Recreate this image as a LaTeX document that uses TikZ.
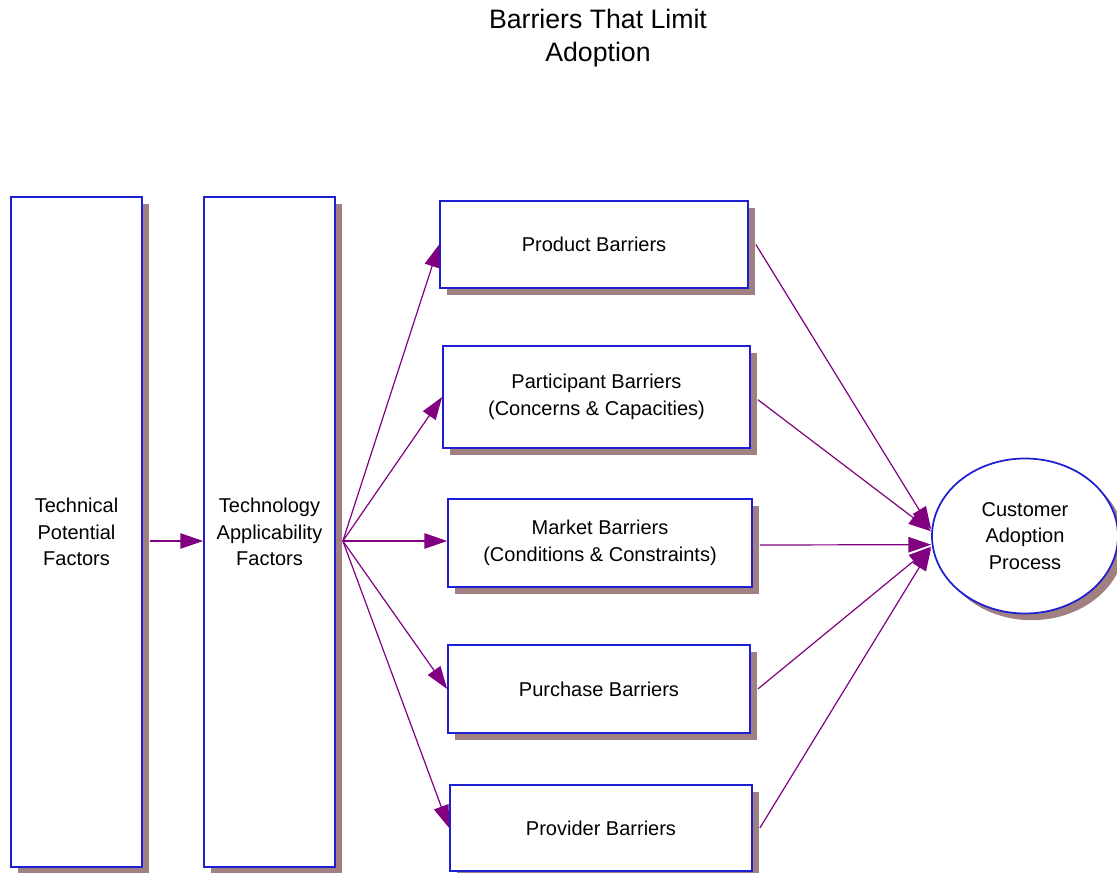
\documentclass[tikz,border=0pt]{standalone}
\usepackage{fontspec}
\setmainfont{Liberation Sans}
\usetikzlibrary{arrows.meta,shadows,shapes.geometric}
\definecolor{edgeblue}{RGB}{30,30,210}
\definecolor{flowpurple}{RGB}{128,0,128}
\definecolor{shadowbrown}{RGB}{160,128,128}
\begin{document}
\begin{tikzpicture}[x=0.75pt,y=-0.75pt,
  box/.style={draw=edgeblue,line width=1.3pt,fill=white,align=center,
    inner sep=0pt,font=\fontsize{15}{20}\selectfont,
    drop shadow={shadow xshift=5pt,shadow yshift=-5pt,fill=shadowbrown,opacity=1}},
  oval/.style={box,ellipse},
  flow/.style={draw=flowpurple,line width=0.9pt,-{Triangle[length=17pt,width=11.5pt]}}]
  \useasboundingbox (0,0) rectangle (1117,873);

  % heading
  \node[align=center,font=\fontsize{20}{24.75}\selectfont] (title) at (598,38)
    {Barriers That Limit\\Adoption};

  % factor columns
  \node[box,minimum width={131*0.75pt},minimum height={670*0.75pt}] (tpf) at (76.5,532)
    {Technical\\Potential\\Factors};
  \node[box,minimum width={131*0.75pt},minimum height={670*0.75pt}] (taf) at (269.5,532)
    {Technology\\Applicability\\Factors};

  % barrier boxes
  \node[box,minimum width={308*0.75pt},minimum height={87*0.75pt}] (prod) at (594,244.5)
    {Product Barriers};
  \node[box,minimum width={307*0.75pt},minimum height={102*0.75pt}] (part) at (596.5,397)
    {Participant Barriers\\(Concerns \& Capacities)};
  \node[box,minimum width={304*0.75pt},minimum height={88*0.75pt}] (mkt) at (600,543)
    {Market Barriers\\(Conditions \& Constraints)};
  \node[box,minimum width={302*0.75pt},minimum height={88*0.75pt}] (purch) at (599,689)
    {Purchase Barriers};
  \node[box,minimum width={302*0.75pt},minimum height={86*0.75pt}] (prov) at (601,828)
    {Provider Barriers};

  % outcome
  \node[oval,minimum width={186*0.75pt},minimum height={155*0.75pt}] (cust) at (1025,536)
    {Customer\\Adoption\\Process};

  % connectors
  \coordinate (hub) at ([xshift=5.25pt,yshift=-6.75pt]taf.east);
  \draw[flow] ([xshift=5.25pt,yshift=-6.75pt]tpf.east) -- (taf.west |- hub);
  \draw[flow] (hub) -- (prod.west);
  \draw[flow] (hub) -- (part.west);
  \draw[flow] (hub) -- (mkt.west |- hub);
  \draw[flow] (hub) -- (purch.west);
  \draw[flow] (hub) -- (prov.west);

  \draw[flow] ([xshift=5.25pt]prod.east) -- ([yshift=5pt]cust.west);
  \draw[flow] ([xshift=5.25pt,yshift=-2pt]part.east) -- ([yshift=3.5pt]cust.west);
  \draw[flow] ([xshift=5.25pt,yshift=-1.5pt]mkt.east) -- ([yshift=-6.5pt]cust.west);
  \draw[flow] ([xshift=5.25pt]purch.east) -- ([yshift=-8pt]cust.west);
  \draw[flow] ([xshift=5.25pt]prov.east) -- ([yshift=-9pt]cust.west);
\end{tikzpicture}
\end{document}
